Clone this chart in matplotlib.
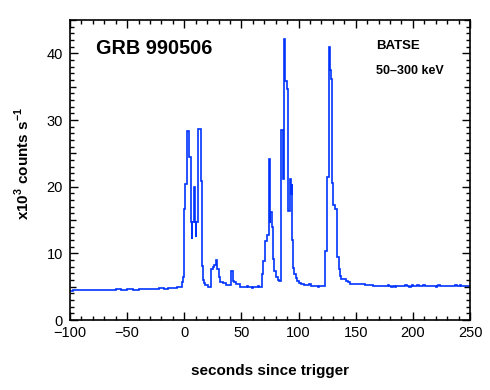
import numpy as np
import matplotlib
matplotlib.use('Agg')
import matplotlib.pyplot as plt
from matplotlib.ticker import MultipleLocator, FuncFormatter

plt.rcParams['font.family'] = ['Liberation Sans', 'DejaVu Sans']
plt.rcParams['mathtext.fontset'] = 'custom'
plt.rcParams['mathtext.rm'] = 'Liberation Sans'
plt.rcParams['mathtext.bf'] = 'Liberation Sans:bold'

# bin start times (s) and rates (x10^3 counts/s)
pre_t = [-100, -97, -90, -86, -80, -75, -70, -66, -60, -55, -50, -45, -40, -35,
         -30, -25, -22, -18, -14, -10, -6, -3.5]
pre_r = [4.40, 4.50, 4.45, 4.50, 4.55, 4.50, 4.55, 4.48, 4.58, 4.52, 4.60, 4.55,
         4.62, 4.60, 4.65, 4.72, 4.80, 4.70, 4.85, 4.80, 4.90, 5.00]

ep1_t = [-2.3, -1.1, -0.25, 0.9, 2.7, 3.7, 4.4, 5.9, 6.4, 7.1, 8.5, 9.1, 9.9, 10.4,
         12.0, 14.2, 15.2, 16.0, 17.0, 17.8, 20.8, 23.7, 24.8, 26.0, 27.5, 28.1,
         28.9, 30.1, 31.3, 34.2, 36.8, 40.9, 42.6, 43.5, 45.2]
ep1_r = [5.7, 6.5, 16.6, 20.4, 28.4, 28.0, 24.4, 14.7, 12.1, 14.7, 20.0, 14.7, 12.5,
         14.7, 28.7, 20.9, 8.1, 6.0, 5.5, 5.2, 5.0, 7.7, 8.0, 8.2, 8.7, 9.0, 7.7,
         6.4, 5.7, 5.5, 5.2, 7.4, 5.9, 5.7, 5.4]

gap1_t = [48.7, 55.0, 56.0, 59.5, 60.5, 64.5, 65.5]
gap1_r = [4.95, 5.10, 4.95, 4.80, 4.95, 5.10, 4.95]

ep2_t = [67.7, 68.3, 69.2, 70.3, 70.9, 72.1, 74.1, 74.8, 75.4, 77.0, 77.9, 78.8,
         80.5, 81.7, 83.2, 84.3, 84.9, 86.7, 87.2, 88.0, 88.4, 89.6, 90.5, 91.0,
         92.6, 93.3, 93.9, 94.4, 95.4, 96.4, 97.6, 98.9, 100.5, 102.1]
ep2_r = [5.6, 6.9, 8.9, 9.4, 11.9, 12.7, 24.2, 14.5, 16.2, 13.9, 9.1, 7.4, 6.5, 6.0,
         5.8, 10.0, 28.5, 21.2, 42.1, 36.5, 35.9, 34.7, 26.9, 16.4, 21.2, 18.9, 20.4,
         12.0, 7.8, 6.9, 6.3, 5.9, 5.6, 5.4]

gap2_t = [104.7, 109, 110.5, 117, 118, 121]
gap2_r = [5.2, 5.4, 5.15, 5.0, 5.15, 5.1]

ep3_t = [123.3, 124.8, 126.3, 126.9, 127.5, 128.1, 129.6, 130.4, 132.3, 133.2,
         135.0, 136.2, 137.1, 141.5, 143.0]
ep3_r = [10.4, 21.4, 32.9, 40.9, 37.5, 36.2, 20.6, 17.2, 16.6, 9.4, 7.6, 6.6, 6.1,
         5.9, 5.7]

post_t = [145, 150, 158, 165, 178, 179.5, 181, 182.5, 184, 185, 193, 194.5, 197,
          198, 199, 200.5, 204, 205, 209, 210.5, 220, 221, 222, 223.5, 237, 238.5,
          241, 242.5]
post_r = [5.45, 5.35, 5.25, 5.15, 5.25, 5.15, 5.0, 5.15, 5.0, 5.15, 5.25, 5.15, 5.0,
          5.15, 5.25, 5.15, 5.25, 5.15, 5.25, 5.15, 5.0, 5.15, 5.25, 5.15, 5.25, 5.15,
          5.25, 5.15]
t_end = 250

edges = np.array(pre_t + ep1_t + gap1_t + ep2_t + gap2_t + ep3_t + post_t + [t_end])
rates = np.array(pre_r + ep1_r + gap1_r + ep2_r + gap2_r + ep3_r + post_r)

fig = plt.figure(figsize=(4.9, 3.9), dpi=100)
ax = fig.add_axes([70/490, 70/390, 400/490, 300/390])

ax.stairs(rates, edges, color='#0033ff', linewidth=1.2, baseline=None)

ax.set_xlim(-100, 250)
ax.set_ylim(0, 45)

ax.xaxis.set_major_locator(MultipleLocator(50))
ax.xaxis.set_minor_locator(MultipleLocator(10))
ax.tick_params(which='both', direction='in', top=True, right=True, left=True,
               bottom=True, width=1, labelsize=10.5)
ax.tick_params(axis='x', which='major', length=5.5, pad=4)
ax.tick_params(axis='x', which='minor', length=3)
ax.tick_params(axis='y', pad=5)

# y: a tick every unit, long at tens (labelled), medium at fives, short elsewhere
ax.yaxis.set_major_locator(MultipleLocator(1))
ax.yaxis.set_major_formatter(FuncFormatter(
    lambda v, p: '%d' % v if round(v) % 10 == 0 else ''))
for tick, loc in zip(ax.yaxis.get_major_ticks(), ax.yaxis.get_majorticklocs()):
    k = int(round(loc))
    size = 5.5 if k % 10 == 0 else (4.0 if k % 5 == 0 else 2.6)
    tick.tick1line.set_markersize(size)
    tick.tick2line.set_markersize(size)

for s in ax.spines.values():
    s.set_linewidth(1.2)

ax.set_xlabel('seconds since trigger', fontsize=11, fontweight='bold')
ax.xaxis.set_label_coords(0.5, -0.145)
ax.set_ylabel(r'x10$^{\mathbf{3}}$ counts s$^{\mathbf{-1}}$', fontsize=11,
              fontweight='bold')
ax.yaxis.set_label_coords(-0.095, 0.52)

ax.text(-77.25, 39.9, 'GRB 990506', fontsize=14.3, fontweight='bold',
        va='baseline', ha='left')
ax.text(167.75, 40.65, 'BATSE', fontsize=9.5, fontweight='bold',
        va='baseline', ha='left')
ax.text(167.75, 36.9, '50\u2013300 keV', fontsize=9, fontweight='bold',
        va='baseline', ha='left')

fig.savefig('out.png', dpi=100)
